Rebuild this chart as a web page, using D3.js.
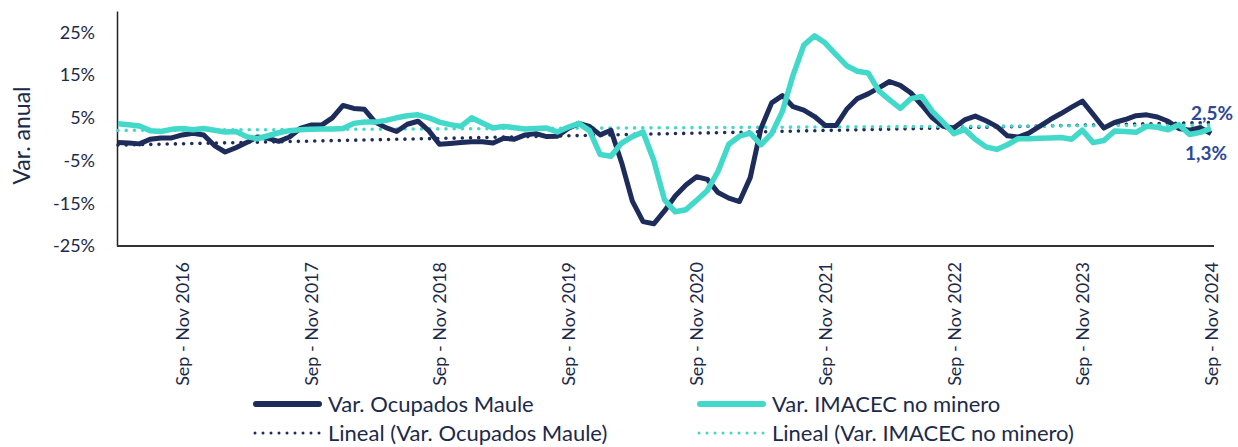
<!DOCTYPE html>
<html>
<head>
<meta charset="utf-8">
<script src="https://cdn.jsdelivr.net/npm/d3@7"></script>
<style>
  body { margin: 0; background: #fff; }
  svg { display: block; font-family: Lato, "Open Sans", sans-serif; }
</style>
</head>
<body>
<script>
  // moving quarters, Mar-May 2016 .. Sep-Nov 2024
  const monthNames = ['Ene', 'Feb', 'Mar', 'Abr', 'May', 'Jun', 'Jul', 'Ago', 'Sep', 'Oct', 'Nov', 'Dic'];
  const monthNamesEn = ['Jan', 'Feb', 'Mar', 'Apr', 'May', 'Jun', 'Jul', 'Aug', 'Sep', 'Oct', 'Nov', 'Dec'];
  const startYear = 2016;
  const startMonth = 2; // Mar
  const nPeriods = 103;

  const categories = [];
  for (let i = 0; i < nPeriods; i++) {
    const m = startMonth + i;
    const y = startYear + Math.floor(m / 12);
    const a = monthNamesEn[m % 12];
    const b = monthNamesEn[(m + 2) % 12];
    categories.push(`${a} - ${b} ${y}`);
  }

  const tickLabels = [
    'Sep - Nov 2016', 'Sep - Nov 2017', 'Sep - Nov 2018', 'Sep - Nov 2019',
    'Sep - Nov 2020', 'Sep - Nov 2021', 'Sep - Nov 2022', 'Sep - Nov 2023', 'Sep - Nov 2024'
  ];

  const yTicks = [-25, -15, -5, 5, 15, 25];

  // Var. Ocupados Maule (%)
  const ocupados = [
    -0.8, -0.9, -1.1, 0.0, 0.3, 0.3, 1.0, 1.4, 1.0, -1.5,
    -3.0, -2.0, -0.8, 0.5, 0.2, -0.5, 0.5, 2.5, 3.3, 3.3,
    5.0, 7.9, 7.2, 7.0, 4.0, 2.7, 1.8, 3.5, 4.2, 2.0,
    -1.2, -1.0, -0.8, -0.6, -0.6, -0.9, 0.2, 0.0, 1.0, 1.3,
    0.6, 0.7, 2.5, 3.7, 3.0, 1.0, 2.1, -5.5, -14.5, -19.3,
    -19.8, -16.8, -13.3, -10.7, -8.8, -9.4, -12.5, -13.8, -14.6, -9.0,
    2.5, 8.5, 10.2, 7.6, 6.8, 5.3, 3.2, 3.2, 7.0, 9.5,
    10.6, 12.0, 13.5, 12.6, 10.8, 8.0, 5.0, 3.0, 2.6, 4.5,
    5.4, 4.3, 3.0, 0.8, 0.5, 1.4, 3.0, 4.6, 6.0, 7.5,
    8.9, 5.8, 2.6, 3.9, 4.6, 5.5, 5.7, 5.2, 4.2, 2.5,
    2.1, 2.7, 1.3
  ];

  // Var. IMACEC no minero (%)
  const imacec = [
    3.6, 3.4, 3.1, 2.0, 1.8, 2.3, 2.5, 2.2, 2.5, 2.1,
    1.7, 1.8, 0.6, 0.1, 0.8, 1.5, 2.0, 2.2, 2.3, 2.4,
    2.4, 2.5, 3.7, 4.0, 4.0, 4.4, 5.0, 5.5, 5.7, 5.0,
    4.0, 3.4, 3.0, 5.0, 3.8, 2.6, 3.0, 2.7, 2.4, 2.5,
    2.6, 1.7, 2.8, 3.7, 2.0, -3.6, -4.0, -0.9, 0.6, 1.7,
    -5.0, -14.2, -17.0, -16.5, -14.3, -12.0, -7.5, -1.2, 0.7, 1.4,
    -1.3, 1.3, 6.5, 15.0, 22.0, 24.2, 22.5, 19.8, 17.2, 15.9,
    15.5, 11.3, 9.2, 7.2, 9.5, 10.0, 6.5, 4.0, 1.3, 2.3,
    0.0, -1.8, -2.4, -1.3, 0.1, 0.1, 0.2, 0.3, 0.4, 0.0,
    2.1, -0.8, -0.3, 1.9, 1.8, 1.6, 3.0, 2.8, 2.2, 3.4,
    1.1, 1.6, 2.5
  ];

  const series = [
    { name: 'Var. Ocupados Maule', values: ocupados, color: '#1d2c5b', width: 5 },
    { name: 'Var. IMACEC no minero', values: imacec, color: '#43d9ca', width: 5.5 }
  ];

  const width = 1238;
  const height = 447;
  const margin = { top: 11, right: 27, bottom: 201, left: 118 };
  const inkColor = '#1c2a4a';

  const svg = d3.select('body')
    .append('svg')
    .attr('width', width)
    .attr('height', height);

  const x = d3.scalePoint()
    .domain(categories)
    .range([margin.left, width - margin.right]);

  const y = d3.scaleLinear()
    .domain([-25, 30])
    .range([height - margin.bottom, margin.top]);

  // axes
  const yAxis = svg.append('g')
    .attr('transform', `translate(${margin.left - 1},0)`)
    .call(d3.axisLeft(y).tickValues(yTicks).tickSize(0).tickPadding(22).tickFormat((d) => d + '%'));
  yAxis.select('.domain').attr('stroke', '#222').attr('stroke-width', 1.5);
  yAxis.selectAll('text')
    .attr('fill', inkColor)
    .style('font-size', '18px')
    .style('font-family', 'Lato, sans-serif');

  const xAxis = svg.append('g')
    .attr('transform', `translate(0,${height - margin.bottom})`)
    .call(d3.axisBottom(x).tickValues(tickLabels).tickSize(0).tickPadding(0));
  xAxis.select('.domain')
    .attr('d', `M${margin.left - 1},0H${width - margin.right + 3}`)
    .attr('stroke', '#333')
    .attr('stroke-width', 2);
  xAxis.selectAll('text')
    .attr('fill', inkColor)
    .attr('transform', 'rotate(-90)')
    .attr('x', -16)
    .attr('y', 0)
    .attr('dy', '0.35em')
    .attr('text-anchor', 'end')
    .style('font-size', '18px')
    .style('font-family', 'Lato, sans-serif');

  // y axis title
  svg.append('text')
    .attr('transform', `translate(30,${(y(-25) + y(30)) / 2 + 7}) rotate(-90)`)
    .attr('text-anchor', 'middle')
    .attr('fill', inkColor)
    .style('font-size', '23px')
    .text('Var. anual');

  // linear trends (least squares on period index)
  function trend(values) {
    const n = values.length;
    const mx = (n - 1) / 2;
    const my = d3.mean(values);
    let sxy = 0, sxx = 0;
    values.forEach((v, i) => { sxy += (i - mx) * (v - my); sxx += (i - mx) * (i - mx); });
    const b = sxy / sxx;
    return values.map((v, i) => my + b * (i - mx));
  }

  const line = d3.line()
    .x((d, i) => x(categories[i]))
    .y((d) => y(d));

  series.forEach((s) => {
    svg.append('path')
      .datum(trend(s.values))
      .attr('fill', 'none')
      .attr('stroke', s.color)
      .attr('stroke-width', 3.6)
      .attr('stroke-linecap', 'round')
      .attr('stroke-dasharray', '0 8.2')
      .attr('d', line);
  });

  series.forEach((s) => {
    svg.append('path')
      .datum(s.values)
      .attr('fill', 'none')
      .attr('stroke', s.color)
      .attr('stroke-width', s.width)
      .attr('stroke-linejoin', 'round')
      .attr('d', line);
  });

  // end labels
  const fmt = (v) => v.toFixed(1).replace('.', ',') + '%';
  const lastCat = categories[categories.length - 1];
  svg.append('text')
    .attr('x', x(lastCat) + 1)
    .attr('y', y(imacec[imacec.length - 1]) - 9)
    .attr('text-anchor', 'middle')
    .attr('fill', '#2e4898')
    .style('font-size', '19px')
    .style('font-weight', 'bold')
    .text(fmt(imacec[imacec.length - 1]));
  svg.append('text')
    .attr('x', x(lastCat) - 5)
    .attr('y', y(ocupados[ocupados.length - 1]) + 26)
    .attr('text-anchor', 'middle')
    .attr('fill', '#2e4898')
    .style('font-size', '19px')
    .style('font-weight', 'bold')
    .text(fmt(ocupados[ocupados.length - 1]));

  // legend
  const legendItems = [
    { label: 'Var. Ocupados Maule', color: series[0].color, dotted: false, lx: 253, ly: 404 },
    { label: 'Var. IMACEC no minero', color: series[1].color, dotted: false, lx: 697, ly: 404 },
    { label: 'Lineal (Var. Ocupados Maule)', color: series[0].color, dotted: true, lx: 253, ly: 433 },
    { label: 'Lineal (Var. IMACEC no minero)', color: series[1].color, dotted: true, lx: 697, ly: 433 }
  ];

  const legend = svg.append('g');
  legendItems.forEach((d) => {
    const g = legend.append('g').attr('transform', `translate(${d.lx},${d.ly})`);
    g.append('line')
      .attr('x1', d.dotted ? 2 : 3).attr('x2', d.dotted ? 68 : 66)
      .attr('stroke', d.color)
      .attr('stroke-linecap', 'round')
      .attr('stroke-width', d.dotted ? 3 : 6)
      .attr('stroke-dasharray', d.dotted ? '0 8' : null);
    g.append('text')
      .attr('x', 75)
      .attr('dy', '0.35em')
      .attr('fill', inkColor)
      .style('font-size', '22px')
      .text(d.label);
  });
</script>
</body>
</html>
